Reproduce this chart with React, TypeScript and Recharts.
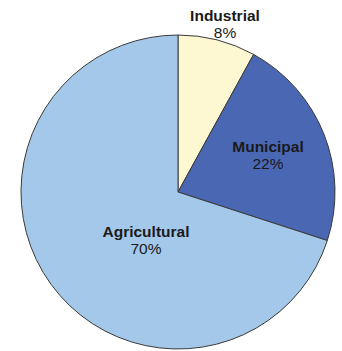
import React from "react";
import { PieChart, Pie, Cell } from "recharts";

const categories = ["Industrial", "Municipal", "Agricultural"];
const shares = [8, 22, 70];
const colors = ["#FDF8D2", "#4A67B4", "#A3C8EA"];

const data = categories.map((name, i) => ({ name, value: shares[i] }));
const total = shares.reduce((a, b) => a + b, 0);

// label placement relative to the pie centre (name baseline)
const labelOffsets: Record<string, { dx: number; dy: number }> = {
  Industrial: { dx: 47, dy: -171 },
  Municipal: { dx: 90, dy: -40 },
  Agricultural: { dx: -32, dy: 45 },
};

const renderLabel = (props: any) => {
  const { cx, cy, name, value } = props;
  const off = labelOffsets[name] || { dx: 0, dy: 0 };
  const x = cx + off.dx;
  const y = cy + off.dy;
  const pct = Math.round((value / total) * 100) + "%";
  return (
    <g>
      <text
        x={x}
        y={y}
        textAnchor="middle"
        fontFamily="'Liberation Sans', Arial, sans-serif"
        fontWeight="bold"
        fontSize={15.5}
        fill="#1a1a1a"
      >
        {name}
      </text>
      <text
        x={x}
        y={y + 16.7}
        textAnchor="middle"
        fontFamily="'Liberation Sans', Arial, sans-serif"
        fontSize={15.5}
        fill="#1a1a1a"
      >
        {pct}
      </text>
    </g>
  );
};

export default function App() {
  return (
    <div style={{ position: "absolute", left: 0, top: 0, width: 342, height: 351, background: "#fff" }}>
      <PieChart width={342} height={351} margin={{ top: 0, right: 0, bottom: 0, left: 0 }}>
        <Pie
          data={data}
          dataKey="value"
          nameKey="name"
          cx={178}
          cy={192}
          outerRadius={157}
          startAngle={90}
          endAngle={-270}
          stroke="#3a3a3a"
          strokeWidth={1}
          label={renderLabel}
          labelLine={false}
          isAnimationActive={false}
        >
          {data.map((d, i) => (
            <Cell key={d.name} fill={colors[i]} />
          ))}
        </Pie>
      </PieChart>
    </div>
  );
}
